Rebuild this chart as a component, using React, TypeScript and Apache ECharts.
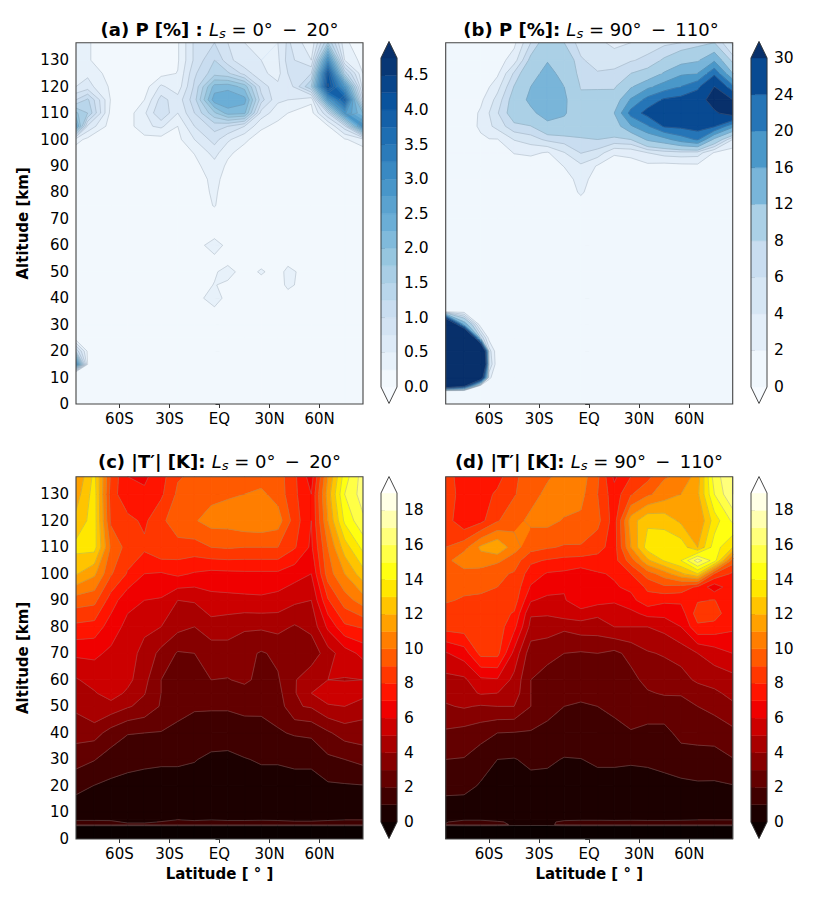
import React, { useEffect, useRef } from "react";
import * as echarts from "echarts";

const latTicks = [-60, -30, 0, 30, 60];
const latLabels = ["60S", "30S", "EQ", "30N", "60N"];
const altTicks = [0, 10, 20, 30, 40, 50, 60, 70, 80, 90, 100, 110, 120, 130];

const levelsA = Array.from({ length: 20 }, (_, i) => i * 0.25);
const levelsB = [0, 2, 4, 6, 8, 12, 16, 20, 24, 30];
const levelsT = Array.from({ length: 20 }, (_, i) => i);
const ticksA = [0, 0.5, 1, 1.5, 2, 2.5, 3, 3.5, 4, 4.5];
const ticksT = [0, 2, 4, 6, 8, 10, 12, 14, 16, 18];

// Panel (a) P [%], Ls 0-20
const latsA = [-86, -79, -65, -55, -45, -35, -25, -15, -3, 5, 15, 25, 35, 41, 55, 65, 75, 86];
const altsA = [0, 12, 15, 20, 25, 30, 35, 40, 45, 50, 55, 60, 65, 70, 75, 80, 85, 90, 95, 100, 105, 110, 115, 120, 125, 130, 136.6];
const gridA = [
  [.1, .1, .1, .1, .1, .1, .1, .1, .1, .1, .1, .1, .1, .1, .1, .1, .1, .1],
  [.05, .08, .1, .1, .1, .1, .1, .1, .1, .1, .1, .1, .1, .1, .1, .1, .1, .1],
  [3, .25, .1, .1, .1, .1, .1, .1, .1, .1, .1, .1, .1, .1, .1, .1, .1, .1],
  [1.2, .2, .1, .1, .1, .1, .1, .1, .1, .1, .1, .1, .1, .1, .1, .1, .1, .1],
  [.05, .08, .1, .1, .1, .1, .1, .1, .1, .1, .1, .1, .1, .1, .1, .1, .1, .1],
  [.1, .1, .1, .1, .1, .1, .1, .1, .1, .1, .1, .1, .1, .1, .1, .1, .1, .1],
  [.1, .1, .1, .1, .1, .1, .1, .12, .18, .12, .1, .1, .1, .1, .1, .1, .1, .1],
  [.1, .1, .1, .1, .1, .1, .1, .14, .38, .15, .1, .1, .1, .15, .1, .1, .1, .1],
  [.1, .1, .1, .1, .1, .1, .1, .14, .26, .2, .14, .15, .15, .3, .12, .1, .1, .1],
  [.1, .1, .1, .1, .1, .1, .1, .14, .22, .34, .14, .28, .15, .32, .12, .1, .1, .1],
  [.1, .1, .1, .1, .1, .1, .1, .14, .2, .15, .12, .14, .12, .15, .1, .1, .1, .1],
  [.1, .1, .1, .1, .1, .1, .1, .14, .36, .18, .12, .1, .1, .1, .1, .1, .1, .1],
  [.1, .1, .1, .1, .1, .1, .1, .12, .14, .12, .1, .1, .1, .1, .1, .1, .1, .1],
  [.1, .1, .1, .1, .1, .1, .1, .12, .15, .12, .1, .1, .1, .1, .1, .1, .1, .1],
  [.1, .1, .1, .1, .1, .1, .1, .15, .26, .15, .1, .1, .1, .1, .1, .1, .1, .1],
  [.1, .1, .1, .1, .1, .1, .1, .16, .28, .15, .1, .1, .1, .1, .1, .1, .1, .1],
  [.1, .1, .1, .1, .1, .1, .1, .16, .3, .18, .1, .1, .1, .1, .1, .1, .1, .1],
  [.1, .1, .1, .1, .1, .1, .12, .18, .4, .2, .12, .1, .1, .1, .1, .1, .1, .1],
  [.1, .1, .1, .12, .12, .12, .14, .26, .6, .3, .15, .1, .1, .1, .1, .1, .1, .12],
  [.35, .18, .1, .12, .15, .15, .18, .5, .85, .55, .3, .12, .12, .12, .1, .1, .22, .4],
  [2.4, .7, .12, .13, .45, .55, .25, .75, 1.1, 1, .75, .3, .18, .15, .12, .22, .9, 2.9],
  [1.8, 1.5, .15, .13, .45, 1, .5, 1, 1.7, 2.1, 2.05, .65, .35, .25, .15, 1, 2.8, 2],
  [1, 1.3, .22, .12, .25, .85, .6, 1.15, 2.4, 2.5, 2.35, 1.1, .55, .5, .3, 2.7, 3.9, .8],
  [.5, .6, .2, .12, .13, .55, .35, 1.05, 2.1, 2.15, 1.9, .9, .55, .55, 1.5, 4.3, 2.8, .35],
  [.4, .45, .13, .12, .13, .16, .26, .95, 1.4, 1.3, .9, .55, .42, .75, 1, 4.1, 1.4, .25],
  [.3, .27, .12, .12, .13, .13, .22, .8, 1.25, .85, .55, .5, .45, .85, .5, 3, .5, .15],
  [.3, .27, .12, .12, .12, .13, .22, .8, 1, .75, .5, .45, .5, .8, .3, 1.5, .3, .1],
];

// Panel (b) P [%], Ls 90-110
const latsB = [-86, -75, -65, -60, -55, -45, -35, -25, -15, -5, 5, 15, 25, 35, 45, 55, 65, 75, 86];
const altsB = [0, 5, 7, 10, 15, 20, 25, 30, 35, 40, 50, 60, 70, 75, 80, 85, 90, 95, 100, 105, 110, 115, 120, 125, 130, 136.6];
const gridB = [
  [.2, .2, .2, .2, .2, .2, .2, .2, .2, .2, .2, .2, .2, .2, .2, .2, .2, .2, .2],
  [1.2, .5, .2, .2, .2, .2, .2, .2, .2, .2, .2, .2, .2, .2, .2, .2, .2, .2, .2],
  [50, 35, 1, .4, .3, .2, .2, .2, .2, .2, .2, .2, .2, .2, .2, .2, .2, .2, .2],
  [100, 90, 40, 2.5, .3, .2, .2, .2, .2, .2, .2, .2, .2, .2, .2, .2, .2, .2, .2],
  [110, 110, 70, 6, .4, .2, .2, .2, .2, .2, .2, .2, .2, .2, .2, .2, .2, .2, .2],
  [110, 100, 60, 5, .4, .2, .2, .2, .2, .2, .2, .2, .2, .2, .2, .2, .2, .2, .2],
  [100, 70, 8, 1.2, .4, .3, .2, .2, .2, .2, .2, .2, .2, .2, .2, .2, .2, .2, .2],
  [55, 15, .6, .4, .3, .3, .3, .3, .3, .3, .3, .3, .3, .3, .3, .3, .3, .3, .2],
  [1, 1, .3, .3, .3, .3, .3, .3, .3, .3, .3, .3, .3, .3, .3, .3, .3, .3, .3],
  [.3, .3, .3, .3, .3, .3, .4, .4, .4, .4, .4, .4, .4, .4, .4, .4, .3, .3, .3],
  [.3, .3, .3, .3, .3, .3, .4, .4, .4, .4, .4, .4, .4, .4, .4, .4, .3, .3, .3],
  [.3, .3, .3, .3, .3, .3, .4, .4, .4, .4, .4, .4, .4, .4, .4, .4, .3, .3, .3],
  [.3, .3, .3, .3, .3, .3, .4, .4, .4, .6, .4, .4, .4, .4, .4, .4, .3, .3, .3],
  [.3, .3, .3, .3, .3, .3, .4, .4, .5, 1, .5, .4, .4, .4, .4, .4, .3, .3, .3],
  [.3, .3, .3, .3, .3, .3, .4, .4, .7, 2.3, .7, .4, .4, .4, .4, .4, .3, .3, .3],
  [.3, .3, .3, .3, .3, .4, .4, .4, .8, 3, .8, .5, .4, .4, .4, .4, .3, .3, .3],
  [.3, .3, .4, .4, .4, .8, .8, .7, 2.1, 3.6, 1.8, 1.2, 1.2, 1.5, 1.2, 1.4, 1.5, .5, .4],
  [.3, .4, .6, .6, .6, 2.1, 2.4, 1.8, 3.9, 6.1, 5.2, 2.2, 2.5, 4, 4.9, 5.2, 5, 1.8, .9],
  [.3, .5, 1.6, 1.9, 1.9, 4.1, 5, 6.5, 7, 7.8, 8, 7.6, 8, 12.6, 14.6, 18, 20.5, 11, 4],
  [.4, .6, 2.4, 3.6, 4.7, 7.4, 7.9, 10.6, 10.7, 9.2, 9.2, 9.8, 15.5, 19.5, 24.5, 25, 26, 24.5, 17],
  [.4, .6, 2.3, 4, 5.8, 9.6, 11, 14, 12.4, 9.5, 9, 12, 21.5, 25.5, 26.5, 26.5, 27, 29, 33],
  [.4, .5, 1.6, 3, 4.8, 9.3, 13, 14.5, 12.7, 8.6, 8.7, 9.5, 16.5, 21.5, 24.6, 25.5, 27, 33, 30],
  [.4, .5, 1, 1.9, 3.2, 8.1, 12, 14, 12, 7.8, 7.8, 7.6, 11.5, 15, 17.8, 20, 23, 30, 21],
  [.4, .5, .7, 1, 1.6, 6.3, 10.8, 13, 11, 7, 6.2, 6.5, 8, 9, 12.4, 15.3, 16, 23, 12],
  [.4, .4, .6, .8, 1, 3, 8.8, 11.8, 10.5, 6.3, 5, 5, 5.8, 6.5, 8.4, 10.5, 11.5, 15.3, 7],
  [.4, .4, .5, .6, .8, 1.5, 6, 10, 8, 5, 4.5, 3.5, 4, 5, 5.5, 6, 7, 8, 3.5],
];

// Panels (c) and (d) |T'| [K]
const latsT = [-86, -75, -65, -55, -45, -35, -25, -15, -5, 5, 15, 25, 35, 45, 55, 65, 75, 86];
const altsC = [0, 4.7, 5.4, 6.4, 7.2, 10, 20, 30, 40, 50, 55, 60, 70, 80, 90, 100, 110, 120, 130, 136.6];
const gridC = [
  [-1, -1, -1, -1, -1, -1, -1, -1, -1, -1, -1, -1, -1, -1, -1, -1, -1, -1],
  [-1, -1, -1, -1, -1, -1, -1, -1, -1, -1, -1, -1, -1, -1, -1, -1, -1, -1],
  [1.3, 1.3, 1.3, 1.25, 1.25, 1.3, 1.3, 1.3, 1.3, 1.3, 1.3, 1.3, 1.3, 1.3, 1.3, 1.3, 1.3, 1.3],
  [1.25, 1.25, 1.2, .85, .85, 1.05, 1.3, 1.2, 1.25, 1.2, 1.2, 1.25, 1.2, 1.1, 1.1, 1.2, 1.2, 1.25],
  [.92, .92, .9, .6, .6, .8, 1.02, .9, 1, .92, .92, .95, .92, .85, .85, .92, 1, 1],
  [.4, .4, .4, .35, .35, .35, .35, .35, .35, .35, .35, .35, .35, .35, .35, .4, .4, .4],
  [1.3, .97, .8, .7, .65, .6, .6, .6, .55, .55, .55, .6, .6, .65, .65, .85, .9, .95],
  [2.4, 2.05, 1.5, 1.3, 1.2, 1.15, 1.15, 1.05, .8, .75, .95, 1.1, 1.1, 1.2, 1.2, 1.8, 2, 2.3],
  [3.4, 3.4, 2.6, 2.05, 2, 1.95, 1.77, 1.6, 1.5, 1.5, 1.65, 1.5, 1.9, 2.1, 2.2, 2.85, 3.45, 3.6],
  [4.2, 4.95, 4.6, 4.1, 3.7, 2.9, 2.3, 2.1, 2.1, 2.1, 2.2, 2.3, 2.4, 3.9, 4.1, 4.9, 5, 4.4],
  [4.6, 4.9, 5.5, 4.8, 4.05, 3, 2.4, 2.5, 2.6, 2.6, 2.6, 2.5, 2.7, 3.9, 5, 5.5, 5.5, 5.4],
  [4.9, 5.4, 5.95, 5.3, 4.3, 3, 2.6, 2.7, 3, 2.95, 3.2, 2.7, 2.9, 3.9, 4.8, 5, 4.95, 5],
  [6.2, 6.2, 5.8, 5.4, 4.7, 3.7, 2.9, 3, 3.4, 3.6, 3.3, 2.9, 3.2, 3.7, 3.3, 4.6, 5.5, 6.3],
  [7.75, 7.6, 6.5, 5.7, 5.2, 5, 4.3, 4, 4.6, 4.4, 4.15, 4.15, 4.3, 3.9, 4.3, 6.2, 7.8, 8.1],
  [9.5, 9.3, 7.5, 6.3, 6, 5.9, 5, 5.1, 5.65, 5.7, 5.75, 5.8, 5.6, 5.2, 5, 7.9, 9.5, 10.5],
  [12.1, 11.2, 9.1, 7.9, 7, 6.9, 7.2, 6.9, 6.7, 6.75, 6.8, 6.8, 6.8, 6.4, 6, 9.5, 11, 12.6],
  [13.3, 13.4, 9.8, 8.6, 8.2, 8.9, 8.7, 8.6, 9, 9.1, 9, 9, 9, 8.1, 6.8, 10, 12.5, 14.3],
  [12.3, 13.5, 8.8, 8.3, 7.8, 8.8, 9.5, 9.9, 10.4, 10.4, 10.7, 10.8, 10.5, 8.5, 7, 11, 14.2, 15.8],
  [11.5, 13.5, 8.5, 7.2, 7.2, 7.8, 9.2, 9.5, 9.7, 9.9, 10, 10.2, 9.6, 8.2, 7, 11.5, 15, 16.5],
  [11, 13.3, 8.8, 7, 6.8, 7.6, 8.9, 9.2, 9.4, 9.5, 9.6, 9.6, 9.5, 8.2, 6.5, 11, 14.5, 16.5],
];
const altsD = [0, 4.7, 5.4, 6.4, 7.2, 10, 20, 30, 40, 50, 55, 60, 70, 80, 85, 90, 95, 100, 105, 110, 120, 130, 136.6];
const gridD = [
  [-1, -1, -1, -1, -1, -1, -1, -1, -1, -1, -1, -1, -1, -1, -1, -1, -1, -1],
  [-1, -1, -1, -1, -1, -1, -1, -1, -1, -1, -1, -1, -1, -1, -1, -1, -1, -1],
  [1.05, 1.3, 1.3, 1.2, .9, .85, .85, 1.2, 1.3, 1.3, 1.3, 1.3, 1.3, 1.3, 1.3, 1.3, 1.3, 1.3],
  [.95, 1.3, 1.3, 1.1, .85, .8, .85, 1.15, 1.25, 1.25, 1.25, 1.25, 1.25, 1.25, 1.25, 1.3, 1.3, 1.3],
  [.7, .95, .95, .8, .6, .6, .6, .92, .95, .95, .92, .95, .92, .92, .95, 1, 1, 1],
  [.4, .4, .4, .35, .35, .35, .35, .35, .35, .35, .35, .35, .35, .35, .35, .4, .4, .4],
  [1.35, 1.3, .9, .65, .65, .7, .7, .6, .6, .65, .65, .65, .65, .7, .75, .85, .85, .95],
  [2, 1.95, 1.45, 1, .95, 1.2, 1.15, .95, .98, 1.15, 1.15, 1.1, 1.15, 1.3, 1.6, 1.65, 1.6, 1.95],
  [2.85, 2.65, 2.4, 2, 1.95, 1.9, 1.75, 1.55, 1.6, 1.55, 1.65, 1.95, 1.75, 1.75, 2.25, 2.3, 2.4, 2.75],
  [3.9, 4.1, 3.9, 4, 4, 3, 2.3, 2, 1.9, 2, 2.25, 2.35, 2.5, 2.5, 2.8, 3, 3.3, 3.8],
  [4.3, 4.6, 5.1, 5, 4.5, 3, 2.4, 2.2, 2.2, 2.3, 2.3, 2.5, 2.9, 3.1, 3.05, 3.4, 3.8, 4.3],
  [4.7, 4.8, 5.8, 5.9, 4.7, 3, 2.6, 2.4, 2.3, 2.6, 2.8, 2.7, 3.3, 3.4, 3.6, 4.2, 4.4, 4.65],
  [5.9, 6.5, 8.3, 8.3, 5.7, 3.4, 3.3, 3, 2.9, 3, 2.75, 3.3, 3.9, 4.1, 4.4, 5, 5.5, 6],
  [8.4, 8.5, 8.5, 8.5, 7.3, 4.7, 4.5, 4.2, 4.5, 4.5, 5, 5, 5, 5.3, 6, 7.8, 7.6, 7.2],
  [8.6, 8.6, 8.6, 8.4, 7.9, 5.1, 5.1, 5.5, 5.6, 5.2, 5.6, 5.7, 6.3, 6.3, 6.5, 8.5, 8.5, 7.2],
  [9.1, 8.9, 8.8, 8.8, 8.5, 6.1, 5.7, 5.9, 6.7, 6.4, 6.1, 6.7, 7.6, 7.2, 7.2, 7.9, 8.05, 7.1],
  [9.5, 9.2, 9.2, 9, 8.7, 6.9, 6.5, 6.1, 6.5, 6.8, 6.9, 7.2, 8.2, 8.8, 8.6, 7.8, 6.4, 7.7],
  [9.8, 9.5, 9.6, 9.2, 8.9, 7.5, 6.9, 6.8, 6.5, 6.9, 7.1, 8, 9.5, 10.5, 11.8, 13, 8.9, 7.8],
  [9.6, 10.8, 10.5, 10.2, 9.5, 8.2, 7.9, 7.7, 7.6, 7.6, 7.6, 9.5, 11.8, 13.1, 14, 16.5, 14.5, 9.5],
  [9, 9.6, 11.2, 11.9, 10.4, 9.4, 9.1, 8.9, 8.9, 8.4, 7.5, 11, 13.5, 13.8, 13.6, 12, 14.5, 13],
  [8.5, 7.2, 7.7, 8.9, 9.7, 10.2, 10.3, 9.9, 9.8, 9.3, 7.5, 11.5, 12.8, 12.6, 11.8, 11, 13.5, 15.2],
  [8.6, 7.5, 7.5, 8.2, 8.9, 9.7, 10.2, 10.6, 10.3, 9, 7.4, 8.9, 9.8, 10.5, 11, 11.8, 15, 17],
  [8.5, 7.4, 7.3, 7.6, 8.8, 9.5, 9.9, 10.3, 10.5, 9.2, 6.8, 8, 8.7, 9.9, 10.2, 11.5, 15.5, 17],
];

const FONT = "DejaVu Sans";
const blueStops = ["#f7fbff", "#deebf7", "#c6dbef", "#9ecae1", "#6baed6", "#4292c6", "#2171b5", "#08519c", "#08306b"];

function hex(r: number, g: number, b: number) {
  const f = (n: number) => Math.round(Math.max(0, Math.min(1, n)) * 255).toString(16).padStart(2, "0");
  return "#" + f(r) + f(g) + f(b);
}
function blues(t: number) {
  const p = Math.max(0, Math.min(1, t)) * 8;
  const i = Math.min(7, Math.floor(p));
  const c = (s: string, o: number) => parseInt(s.substr(o, 2), 16) / 255;
  const m = (o: number) => c(blueStops[i], o) + (c(blueStops[i + 1], o) - c(blueStops[i], o)) * (p - i);
  return hex(m(1), m(3), m(5));
}
function hot(t: number) {
  const a = 0.365079, b = 0.746032;
  return hex(0.0416 + (t / a) * 0.9584, (t - a) / (b - a), (t - b) / (1 - b));
}

function makeBands(levels: number[], cmap: (t: number) => string) {
  const top = levels[levels.length - 1];
  const bands: { lo: number; hi: number; color: string }[] = [];
  bands.push({ lo: -1e9, hi: levels[0], color: cmap(0) });
  for (let i = 0; i + 1 < levels.length; i++) {
    bands.push({ lo: levels[i], hi: levels[i + 1], color: cmap((levels[i] + levels[i + 1]) / 2 / top) });
  }
  bands.push({ lo: top, hi: 1e9, color: cmap(1) });
  return bands;
}

type V = [number, number, number];
function clip(poly: V[], level: number, keepAbove: boolean): V[] {
  const out: V[] = [];
  const inside = (p: V) => (keepAbove ? p[2] >= level : p[2] <= level);
  for (let i = 0; i < poly.length; i++) {
    const a = poly[i], b = poly[(i + 1) % poly.length];
    const ia = inside(a), ib = inside(b);
    if (ia) out.push(a);
    if (ia !== ib) {
      const t = (level - a[2]) / (b[2] - a[2]);
      out.push([a[0] + (b[0] - a[0]) * t, a[1] + (b[1] - a[1]) * t, level]);
    }
  }
  return out;
}

function buildCells(lats: number[], alts: number[], grid: number[][]) {
  const cells: number[][] = [];
  for (let j = 0; j + 1 < alts.length; j++) {
    for (let i = 0; i + 1 < lats.length; i++) {
      cells.push([lats[i], alts[j], lats[i + 1], alts[j + 1], grid[j][i], grid[j][i + 1], grid[j + 1][i + 1], grid[j + 1][i]]);
    }
  }
  return cells;
}

function corners(api: any): V[] {
  const x0 = api.value(0), y0 = api.value(1), x1 = api.value(2), y1 = api.value(3);
  return [[x0, y0, api.value(4)], [x1, y0, api.value(5)], [x1, y1, api.value(6)], [x0, y1, api.value(7)]];
}

function fillRenderer(bands: { lo: number; hi: number; color: string }[]) {
  return (_: any, api: any) => {
    const q = corners(api);
    const vs = q.map((p) => p[2]);
    const mn = Math.min(...vs), mx = Math.max(...vs);
    const children: any[] = [];
    for (const b of bands) {
      if (mx < b.lo || mn > b.hi) continue;
      let poly = q;
      if (mn < b.lo) poly = clip(poly, b.lo, true);
      if (mx > b.hi && poly.length) poly = clip(poly, b.hi, false);
      if (poly.length < 3) continue;
      children.push({
        type: "polygon",
        shape: { points: poly.map((p) => api.coord([p[0], p[1]])) },
        style: { fill: b.color, stroke: b.color, lineWidth: 1 },
      });
    }
    return { type: "group", children };
  };
}

function lineRenderer(levels: number[], color: string, opacity: number) {
  return (_: any, api: any) => {
    const q = corners(api);
    const children: any[] = [];
    const center = (q[0][2] + q[1][2] + q[2][2] + q[3][2]) / 4;
    for (const L of levels) {
      const pts: number[][] = [];
      for (let e = 0; e < 4; e++) {
        const a = q[e], b = q[(e + 1) % 4];
        if (a[2] >= L !== b[2] >= L) {
          const t = (L - a[2]) / (b[2] - a[2]);
          pts.push([a[0] + (b[0] - a[0]) * t, a[1] + (b[1] - a[1]) * t]);
        }
      }
      const segs: number[][][] = [];
      if (pts.length === 2) segs.push([pts[0], pts[1]]);
      else if (pts.length === 4) {
        if ((center >= L) === (q[0][2] >= L)) segs.push([pts[0], pts[1]], [pts[2], pts[3]]);
        else segs.push([pts[3], pts[0]], [pts[1], pts[2]]);
      }
      for (const s of segs) {
        const a = api.coord(s[0]), b = api.coord(s[1]);
        children.push({
          type: "line",
          shape: { x1: a[0], y1: a[1], x2: b[0], y2: b[1] },
          style: { stroke: color, lineWidth: 0.5, opacity },
        });
      }
    }
    return { type: "group", children };
  };
}

const PANEL_W = 287;
const panelsDef = [
  { left: 76, top: 42.7, h: 361.3, cbLeft: 381, cbTop: 58, cbH: 329, lats: latsA, alts: altsA, grid: gridA, levels: levelsA, cmap: blues, lc: "#7d8590", lo: 0.55, bandTicks: ticksA, yName: true, xName: false, uniform: true,
    tag: "(a) P [%] : ", range: "0°\u2009 −\u2009 20°", cx: 214.5, ty: 13 },
  { left: 445.7, top: 42.7, h: 361.3, cbLeft: 751, cbTop: 58, cbH: 329, lats: latsB, alts: altsB, grid: gridB, levels: levelsB, cmap: blues, lc: "#7d8590", lo: 0.55, bandTicks: levelsB, yName: false, xName: false, uniform: false,
    tag: "(b) P [%]: ", range: "90°\u2009 −\u2009 110°", cx: 586, ty: 13 },
  { left: 76, top: 476.7, h: 362.3, cbLeft: 381, cbTop: 493, cbH: 329, lats: latsT, alts: altsC, grid: gridC, levels: levelsT, cmap: hot, lc: "#8a8a8a", lo: 0.7, bandTicks: ticksT, yName: true, xName: true, uniform: true,
    tag: "(c) |T′| [K]: ", range: "0°\u2009 −\u2009 20°", cx: 214.5, ty: 445 },
  { left: 445.7, top: 476.7, h: 362.3, cbLeft: 751, cbTop: 493, cbH: 329, lats: latsT, alts: altsD, grid: gridD, levels: levelsT, cmap: hot, lc: "#8a8a8a", lo: 0.7, bandTicks: ticksT, yName: false, xName: true, uniform: true,
    tag: "(d) |T′| [K]: ", range: "90°\u2009 −\u2009 110°", cx: 584, ty: 445 },
];

const richTitle = {
  b: { fontFamily: FONT, fontWeight: "bold", fontSize: 18, color: "#000", lineHeight: 22 },
  i: { fontFamily: FONT, fontStyle: "italic", fontWeight: "normal", fontSize: 18, color: "#000", lineHeight: 22 },
  s: { fontFamily: FONT, fontStyle: "italic", fontWeight: "normal", fontSize: 13, color: "#000", lineHeight: 22, verticalAlign: "bottom" },
  n: { fontFamily: FONT, fontWeight: "normal", fontSize: 18, color: "#000", lineHeight: 22 },
};

function buildOption() {
  const grid: any[] = [], xAxis: any[] = [], yAxis: any[] = [], series: any[] = [], title: any[] = [], graphic: any[] = [];
  panelsDef.forEach((p, k) => {
    const gi = k * 2, ci = k * 2 + 1;
    grid.push({ left: p.left, top: p.top, width: PANEL_W, height: p.h });
    grid.push({ left: p.cbLeft, top: p.cbTop, width: 16, height: p.cbH });

    xAxis.push({
      gridIndex: gi, type: "value", min: -86, max: 86,
      name: p.xName ? "Latitude [ ° ]" : "", nameLocation: "middle", nameGap: 27,
      nameTextStyle: { fontFamily: FONT, fontWeight: "bold", fontSize: 15, color: "#000" },
      axisLine: { show: false }, splitLine: { show: false },
      axisTick: { show: true, length: 4, customValues: latTicks, lineStyle: { color: "#333", width: 1 } },
      axisLabel: { customValues: latTicks, margin: 7, fontFamily: FONT, fontSize: 15, color: "#000", formatter: (v: number) => latLabels[latTicks.indexOf(v)] ?? "" },
    });
    yAxis.push({
      gridIndex: gi, type: "value", min: 0, max: 136.6,
      name: p.yName ? "Altitude [km]" : "", nameLocation: "middle", nameGap: 46, nameRotate: 90,
      nameTextStyle: { fontFamily: FONT, fontWeight: "bold", fontSize: 15, color: "#000" },
      axisLine: { show: false }, splitLine: { show: false },
      axisTick: { show: true, length: 4, customValues: altTicks, lineStyle: { color: "#333", width: 1 } },
      axisLabel: { show: p.yName, customValues: altTicks, margin: 7, fontFamily: FONT, fontSize: 15, color: "#000", formatter: (v: number) => String(v) },
    });

    const bands = makeBands(p.levels, p.cmap);
    const cells = buildCells(p.lats, p.alts, p.grid);
    series.push({ type: "custom", coordinateSystem: "cartesian2d", xAxisIndex: gi, yAxisIndex: gi, data: cells, renderItem: fillRenderer(bands), clip: true, silent: true, z: 2 });
    series.push({ type: "custom", coordinateSystem: "cartesian2d", xAxisIndex: gi, yAxisIndex: gi, data: cells, renderItem: lineRenderer(p.levels, p.lc, p.lo), clip: true, silent: true, z: 3 });

    // colour bar: one row per band plus the two extensions
    const n = p.levels.length - 1;
    const scale = p.uniform ? (v: number) => v : (v: number) => p.levels.indexOf(v);
    const cMin = scale(p.levels[0]), cMax = scale(p.levels[n]);
    const ext = (cMax - cMin) * 0.05;
    const tickVals = p.bandTicks.map(scale);
    xAxis.push({ gridIndex: ci, type: "value", min: 0, max: 1, show: false });
    yAxis.push({
      gridIndex: ci, type: "value", min: cMin, max: cMax, position: "right",
      axisLine: { show: false }, splitLine: { show: false },
      axisTick: { show: true, length: 4, customValues: tickVals, lineStyle: { color: "#333", width: 1 } },
      axisLabel: {
        customValues: tickVals, margin: 7, fontFamily: FONT, fontSize: 15.5, color: "#000",
        formatter: (v: number) => {
          const o = p.bandTicks[tickVals.indexOf(v)];
          return o === undefined ? "" : k === 0 ? o.toFixed(1) : String(o);
        },
      },
    });
    const barData = bands.map((_, i) => [0, i]);
    series.push({
      type: "custom", coordinateSystem: "cartesian2d", xAxisIndex: ci, yAxisIndex: ci, data: barData, clip: false, silent: true, z: 2,
      renderItem: (_: any, api: any) => {
        const i = api.value(1);
        const b = bands[i];
        let pts: number[][];
        if (i === 0) pts = [[0, cMin], [1, cMin], [0.5, cMin - ext]];
        else if (i === bands.length - 1) pts = [[0, cMax], [1, cMax], [0.5, cMax + ext]];
        else pts = [[0, scale(b.lo)], [1, scale(b.lo)], [1, scale(b.hi)], [0, scale(b.hi)]];
        return { type: "polygon", shape: { points: pts.map((q) => api.coord(q)) }, style: { fill: b.color, stroke: b.color, lineWidth: 0.4 } };
      },
    });
    series.push({
      type: "custom", coordinateSystem: "cartesian2d", xAxisIndex: ci, yAxisIndex: ci, data: [[0, 0]], clip: false, silent: true, z: 3,
      renderItem: (_: any, api: any) => {
        const pts = [[0, cMin], [0.5, cMin - ext], [1, cMin], [1, cMax], [0.5, cMax + ext], [0, cMax]];
        return { type: "polygon", shape: { points: pts.map((q) => api.coord(q)) }, style: { fill: "none", stroke: "#333", lineWidth: 0.9 } };
      },
    });

    title.push({
      left: p.cx, top: p.ty, textAlign: "center",
      text: `{b|${p.tag}}{i|L}{s|s}{n| = ${p.range}}`,
      textStyle: { rich: richTitle },
    });
    graphic.push({ type: "rect", z: 100, shape: { x: p.left, y: p.top, width: PANEL_W, height: p.h }, style: { fill: "none", stroke: "#444", lineWidth: 1.1 }, silent: true });
  });
  return { animation: false, backgroundColor: "#fff", grid, xAxis, yAxis, series, title, graphic };
}

export default function App() {
  const ref = useRef<HTMLDivElement>(null);
  useEffect(() => {
    const chart = echarts.init(ref.current!, undefined, { renderer: "svg" });
    chart.setOption(buildOption() as any);
    return () => chart.dispose();
  }, []);
  return <div ref={ref} style={{ position: "absolute", left: 0, top: 0, width: 822, height: 904 }} />;
}
